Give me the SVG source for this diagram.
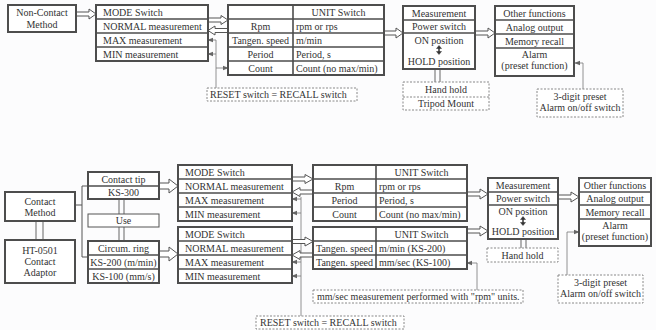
<svg xmlns="http://www.w3.org/2000/svg" width="656" height="330" viewBox="0 0 656 330">
<style>
.bx{fill:#fff;stroke:#4d4d4d;stroke-width:2}
.ub{fill:#fff;stroke:#555;stroke-width:1}
.dv{stroke:#4d4d4d;stroke-width:1.6}
.ds{fill:#fff;stroke:#888;stroke-width:1;stroke-dasharray:2 1.5}
.dd{stroke:#888;stroke-width:1;stroke-dasharray:2 1.5}
.t{font-family:"Liberation Serif",serif;font-size:10px;fill:#333}
.c{text-anchor:middle}
.ha{fill:#fff;stroke:#555;stroke-width:1}
.ln{fill:none;stroke:#777;stroke-width:0.8}
.cl{fill:none;stroke:#555;stroke-width:1}
.dl{stroke:#666;stroke-width:1}
.sy{fill:#333;stroke:#333}
</style>
<defs>
<marker id="ah" viewBox="0 0 8 8" refX="7" refY="4" markerWidth="6" markerHeight="6" orient="auto" markerUnits="userSpaceOnUse">
<path d="M0,1 L8,4 L0,7 Z" fill="#666"/>
</marker>
</defs>
<rect width="656" height="330" fill="#fcfcfd"/>

<g id="connectors">
<!-- thin connectors -->
<path class="ln" d="M216,40 V88"/>
<path class="ln" d="M216,40 H208" marker-end="url(#ah)"/>
<path class="ln" d="M216,54 H208" marker-end="url(#ah)"/>
<path class="ln" d="M216,68 H228" marker-end="url(#ah)"/>
<path class="ln" d="M583,89 V63 H575" marker-end="url(#ah)"/>
<path class="ln" d="M301,197 V316"/>
<path class="ln" d="M301,199 H292" marker-end="url(#ah)"/>
<path class="ln" d="M301,213 H292" marker-end="url(#ah)"/>
<path class="ln" d="M301,262 H292" marker-end="url(#ah)"/>
<path class="ln" d="M301,276 H292" marker-end="url(#ah)"/>
<path class="ln" d="M477,290 V263 H467" marker-end="url(#ah)"/>
<path class="ln" d="M567,275 V232 H579" marker-end="url(#ah)"/>
<path class="cl" d="M75,205 H82 V186 H88 M82,205 V257 H88"/>
<!-- double lines -->
<path class="dl" d="M435,69 V82 M440,69 V82"/>
<path class="dl" d="M36,221 V240 M43,221 V240"/>
<path class="dl" d="M119,199 V214 M124,199 V214 M119,227 V241 M124,227 V241"/>
<path class="dl" d="M521,239 V248 M526,239 V248"/>
<!-- hollow arrows -->
<path class="ha" d="M76,12 H89 V9 L96,14 L89,19 V16 H76 Z"/>
<path class="ha" d="M208,18 H221 V15.5 L228,20 L221,24.5 V22 H208 Z"/>
<path class="ha" d="M228,28.5 H215 V26 L208,30.5 L215,35 V32.5 H228 Z"/>
<path class="ha" d="M384,31 H396 V28 L403,33 L396,38 V35 H384 Z"/>
<path class="ha" d="M475,31 H488 V28 L495,33 L488,38 V35 H475 Z"/>
<path class="ha" d="M159,183 H169 V179 L178,186 L169,193 V189 H159 Z"/>
<path class="ha" d="M159,251 H169 V247 L178,254 L169,261 V257 H159 Z"/>
<path class="ha" d="M292,177 H305 V174.5 L313,179 L305,183.5 V181 H292 Z"/>
<path class="ha" d="M313,190 H300 V187.5 L292,192 L300,196.5 V194 H313 Z"/>
<path class="ha" d="M292,239.5 H305 V237 L313,241.5 L305,246 V243.5 H292 Z"/>
<path class="ha" d="M313,253 H300 V250.5 L292,255 L300,259.5 V257 H313 Z"/>
<path class="ha" d="M467,192 H480 V189 L488,194 L480,199 V196 H467 Z"/>
<path class="ha" d="M467,229 H480 V226 L488,231 L480,236 V233 H467 Z"/>
<path class="ha" d="M558,195 H571 V192 L579,197 L571,202 V199 H558 Z"/>
</g>

<!-- TOP SECTION -->
<g id="noncontact">
<rect class="bx" x="8" y="5" width="68" height="27"/>
<text class="t c" x="42" y="16">Non-Contact</text>
<text class="t c" x="42" y="28">Method</text>
</g>

<g id="mode1">
<rect class="bx" x="96" y="5" width="112" height="56"/>
<path class="dv" d="M96,19 H208 M96,33 H208 M96,47 H208"/>
<text class="t" x="103" y="15.5">MODE  Switch</text>
<text class="t" x="103" y="29.5">NORMAL measurement</text>
<text class="t" x="103" y="43.5">MAX measurement</text>
<text class="t" x="103" y="57.5">MIN measurement</text>
</g>

<g id="unit1">
<rect class="bx" x="228" y="5" width="156" height="70"/>
<path class="dv" d="M228,19 H384 M228,33 H384 M228,47 H384 M228,61 H384 M293,5 V75"/>
<text class="t c" x="338.5" y="15.5">UNIT Switch</text>
<text class="t c" x="260.5" y="29.5">Rpm</text>
<text class="t c" x="260.5" y="43.5">Tangen. speed</text>
<text class="t c" x="260.5" y="57.5">Period</text>
<text class="t c" x="260.5" y="71.5">Count</text>
<text class="t" x="296" y="29.5">rpm or rps</text>
<text class="t" x="296" y="43.5">m/min</text>
<text class="t" x="296" y="57.5">Period, s</text>
<text class="t" x="296" y="71.5">Count (no max/min)</text>
</g>

<g id="reset1">
<rect class="ds" x="207" y="88" width="150" height="13"/>
<text class="t" x="210" y="98">RESET switch = RECALL switch</text>
</g>

<g id="meas1">
<rect class="bx" x="403" y="6" width="72" height="63"/>
<path class="dv" d="M403,20 H475 M403,33 H475"/>
<text class="t c" x="439" y="16.5">Measurement</text>
<text class="t c" x="439" y="30">Power switch</text>
<text class="t c" x="439" y="44">ON position</text>
<path class="sy" stroke-width="1.5" d="M439,47 V53"/>
<path class="sy" stroke-width="0.5" d="M436.5,48.5 L439,45.5 L441.5,48.5 Z M436.5,51.5 L439,54.5 L441.5,51.5 Z"/>
<text class="t c" x="439" y="65">HOLD position</text>
</g>

<g id="other1">
<rect class="bx" x="495" y="6" width="79" height="70"/>
<path class="dv" d="M495,20 H574 M495,34 H574 M495,48 H574"/>
<text class="t c" x="534.5" y="16.5">Other functions</text>
<text class="t c" x="534.5" y="30.5">Analog output</text>
<text class="t c" x="534.5" y="44.5">Memory recall</text>
<text class="t c" x="534.5" y="58">Alarm</text>
<text class="t c" x="534.5" y="69">(preset function)</text>
</g>

<g id="hold1">
<rect class="ds" x="403" y="82" width="86" height="28"/>
<path class="dd" d="M403,97 H489"/>
<text class="t c" x="446" y="93">Hand hold</text>
<text class="t c" x="446" y="107">Tripod Mount</text>
</g>

<g id="preset1">
<rect class="ds" x="537" y="89" width="86" height="28"/>
<text class="t c" x="580" y="100">3-digit preset</text>
<text class="t c" x="580" y="111">Alarm on/off switch</text>
</g>

<!-- BOTTOM SECTION -->
<g id="contact">
<rect class="bx" x="5" y="192" width="70" height="29"/>
<text class="t c" x="40" y="205">Contact</text>
<text class="t c" x="40" y="216">Method</text>
</g>

<g id="adaptor">
<rect class="bx" x="5" y="240" width="70" height="43"/>
<text class="t c" x="40" y="254">HT-0501</text>
<text class="t c" x="40" y="265">Contact</text>
<text class="t c" x="40" y="276">Adaptor</text>
</g>

<g id="tip">
<rect class="bx" x="88" y="172" width="71" height="27"/>
<path class="dv" d="M88,186 H159"/>
<text class="t c" x="123.5" y="182.5">Contact tip</text>
<text class="t c" x="123.5" y="196">KS-300</text>
</g>

<g id="use">
<rect class="ub" x="88" y="214" width="71" height="13"/>
<text class="t c" x="123.5" y="224">Use</text>
</g>

<g id="ring">
<rect class="bx" x="88" y="241" width="71" height="42"/>
<path class="dv" d="M88,255 H159 M88,269 H159"/>
<text class="t c" x="123.5" y="251.5">Circum. ring</text>
<text class="t c" x="123.5" y="265.5">KS-200 (m/min)</text>
<text class="t c" x="123.5" y="279.5">KS-100 (mm/s)</text>
</g>

<g id="mode2">
<rect class="bx" x="178" y="165" width="114" height="56"/>
<path class="dv" d="M178,179 H292 M178,193 H292 M178,207 H292"/>
<text class="t" x="185" y="175.5">MODE  Switch</text>
<text class="t" x="185" y="189.5">NORMAL measurement</text>
<text class="t" x="185" y="203.5">MAX measurement</text>
<text class="t" x="185" y="217.5">MIN measurement</text>
</g>

<g id="mode3">
<rect class="bx" x="178" y="227" width="114" height="56"/>
<path class="dv" d="M178,241 H292 M178,255 H292 M178,269 H292"/>
<text class="t" x="185" y="237.5">MODE  Switch</text>
<text class="t" x="185" y="251.5">NORMAL measurement</text>
<text class="t" x="185" y="265.5">MAX measurement</text>
<text class="t" x="185" y="279.5">MIN measurement</text>
</g>

<g id="unit2">
<rect class="bx" x="313" y="165" width="154" height="56"/>
<path class="dv" d="M313,179 H467 M313,193 H467 M313,207 H467 M376,165 V221"/>
<text class="t c" x="421.5" y="175.5">UNIT Switch</text>
<text class="t c" x="344.5" y="189.5">Rpm</text>
<text class="t c" x="344.5" y="203.5">Period</text>
<text class="t c" x="344.5" y="217.5">Count</text>
<text class="t" x="379" y="189.5">rpm or rps</text>
<text class="t" x="379" y="203.5">Period, s</text>
<text class="t" x="379" y="217.5">Count (no max/min)</text>
</g>

<g id="unit3">
<rect class="bx" x="313" y="227" width="154" height="42"/>
<path class="dv" d="M313,241 H467 M313,255 H467 M376,227 V269"/>
<text class="t c" x="421.5" y="237.5">UNIT Switch</text>
<text class="t c" x="344.5" y="251.5">Tangen. speed</text>
<text class="t c" x="344.5" y="265.5">Tangen. speed</text>
<text class="t" x="379" y="251.5">m/min (KS-200)</text>
<text class="t" x="379" y="265.5">mm/sec (KS-100)</text>
</g>

<g id="mmsec">
<rect class="ds" x="313" y="290" width="210" height="13"/>
<text class="t" x="317" y="300">mm/sec measurement performed with "rpm" units.</text>
</g>

<g id="reset2">
<rect class="ds" x="256" y="316" width="148" height="13"/>
<text class="t" x="260" y="326">RESET switch = RECALL switch</text>
</g>

<g id="meas2">
<rect class="bx" x="488" y="178" width="70" height="61"/>
<path class="dv" d="M488,192 H558 M488,205 H558"/>
<text class="t c" x="523" y="188.5">Measurement</text>
<text class="t c" x="523" y="202">Power switch</text>
<text class="t c" x="523" y="214.5">ON position</text>
<path class="sy" stroke-width="1.5" d="M523,218 V224"/>
<path class="sy" stroke-width="0.5" d="M520.5,219.5 L523,216.5 L525.5,219.5 Z M520.5,222.5 L523,225.5 L525.5,222.5 Z"/>
<text class="t c" x="523" y="235">HOLD position</text>
</g>

<g id="other2">
<rect class="bx" x="579" y="178" width="72" height="68"/>
<path class="dv" d="M579,192 H651 M579,205 H651 M579,219 H651"/>
<text class="t c" x="615" y="188.5">Other functions</text>
<text class="t c" x="615" y="202">Analog output</text>
<text class="t c" x="615" y="215.5">Memory recall</text>
<text class="t c" x="615" y="228.5">Alarm</text>
<text class="t c" x="615" y="239.5">(preset function)</text>
</g>

<g id="hold2">
<rect class="ds" x="487" y="248" width="71" height="14"/>
<text class="t c" x="522.5" y="258.5">Hand hold</text>
</g>

<g id="preset2">
<rect class="ds" x="558" y="275" width="85" height="28"/>
<text class="t c" x="600.5" y="286">3-digit preset</text>
<text class="t c" x="600.5" y="297">Alarm on/off switch</text>
</g>
</svg>
